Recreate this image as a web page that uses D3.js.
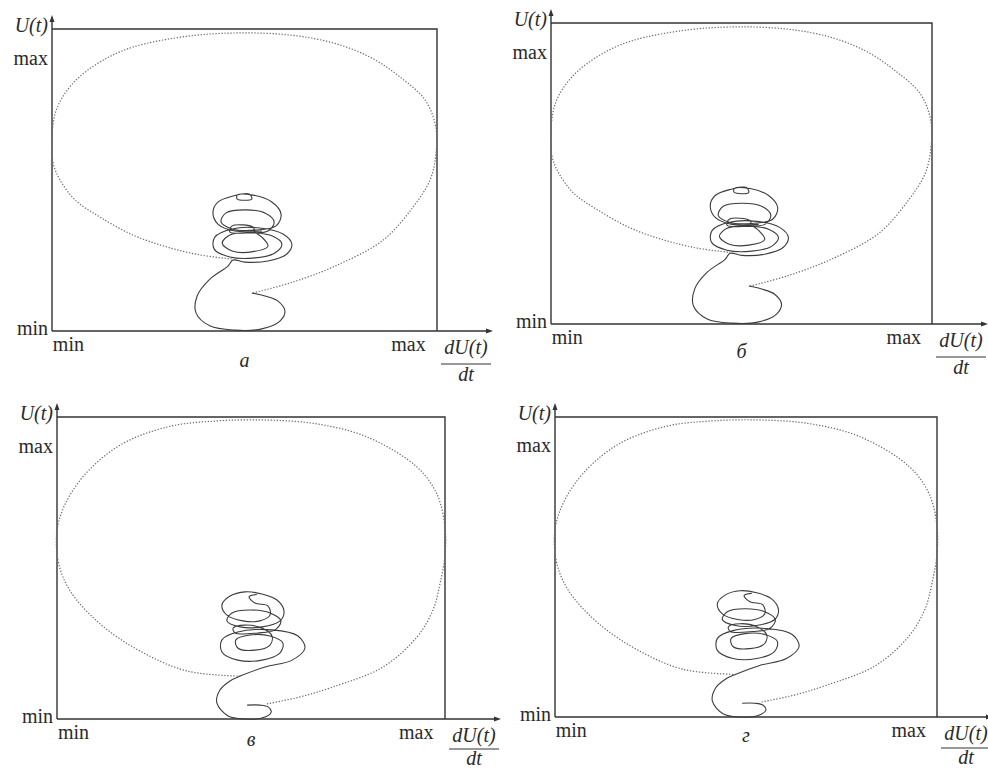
<!DOCTYPE html>
<html>
<head>
<meta charset="utf-8">
<script src="https://cdn.jsdelivr.net/npm/d3@7"></script>
<style>
  body { margin: 0; background: #fff; }
  svg { display: block; }
  text { font-family: "Liberation Serif", "DejaVu Serif", serif; fill: #2a2a2a; }
</style>
</head>
<body>
<script>
'use strict';

// panel captions and axis tick labels
const panelLetters = ['а', 'б', 'в', 'г'];
const tickLabels = ['min', 'max'];
const xTickValues = [4.5, 92];
const yTickValues = [1, 90.5];

// fast part of the trajectory (dotted), [dU/dt, U] in % of the range, panels а, б
const loopAB = [
  [52.2,12.6],[61.8,15.9],[73.0,21.2],[86.0,30.1],[93.8,41.1],[98.2,50.0],[99.7,58.3],
  [99.7,67.5],[96.9,76.5],[90.4,84.1],[82.6,90.7],[73.0,95.4],[61.8,98.0],[48.8,98.7],
  [35.8,97.7],[21.0,94.0],[12.5,89.1],[5.5,82.1],[1.3,73.8],[0,64.9],[0.3,55.6],
  [2.1,50.0],[6.0,43.4],[12.5,37.7],[21.0,31.8],[29.9,27.8],[38.4,25.2],[47.0,23.8]
];
// slow part (solid), panels а, б
const spiralAB = [
  [51.9,12.6],[55.3,11.6],[58.7,9.9],[60.5,6.6],[59.2,3.3],[54.5,0.7],[47.5,0.3],
  [41.0,1.7],[37.4,6.0],[37.7,11.6],[41.0,17.2],[45.7,21.5],[47.0,23.5],[50.1,22.8],
  [56.1,23.2],[61.0,25.5],[62.3,28.8],[60.0,32.1],[54.0,34.1],[46.8,33.8],[42.3,31.1],
  [42.1,27.2],[46.2,24.5],[52.7,24.2],[57.9,25.8],[59.7,28.8],[57.1,31.5],[51.4,32.5],
  [46.2,31.8],[44.2,29.1],[46.8,26.5],[51.9,26.2],[56.1,28.1],[54.5,31.1],[52.7,32.8],
  [52.2,34.4],[46.8,34.8],[46.2,32.8],[51.4,32.5],[56.1,33.1],[57.7,36.1],[55.3,39.1],
  [50.1,40.1],[45.2,39.1],[43.9,36.1],[46.8,33.8],[52.7,33.4],[58.2,34.8],[59.5,38.7],
  [57.1,42.7],[52.2,45.0],[48.1,45.0],[48.1,43.7],[51.9,43.7],[51.2,45.4],[47.0,44.7],
  [43.1,42.7],[41.8,39.4],[43.1,35.4],[47.5,33.1],[54.5,33.1]
];
// dotted part, panels в, г
const loopVG = [
  [54.1,5.0],[62.6,7.3],[71.1,10.6],[84.0,17.2],[92.8,27.2],[96.9,36.1],[98.7,44.7],
  [100,54.3],[100,63.6],[97.9,74.5],[92.8,83.4],[79.9,93.4],[67.0,97.7],[54.1,99.0],
  [41.2,98.7],[28.4,96.7],[15.5,90.1],[5.2,77.8],[0.3,64.6],[0.3,52.3],[3.4,42.4],
  [11.1,31.5],[21.4,22.5],[33.5,15.9],[47.2,14.2]
];
// solid part, panels в, г
const spiralVG = [
  [49.0,4.6],[52.3,4.6],[54.4,4.0],[55.2,2.3],[52.8,0.3],[48.5,0],[44.1,1.0],[41.2,5.3],
  [42.0,9.6],[44.6,12.6],[47.2,14.2],[53.6,17.2],[60.6,19.5],[63.9,23.5],[62.1,27.5],
  [55.4,29.5],[46.6,28.8],[42.5,26.2],[42.5,22.2],[46.6,19.5],[52.8,19.5],[57.5,21.9],
  [58.2,25.2],[54.9,27.5],[49.7,27.8],[46.1,26.2],[46.6,23.5],[51.0,22.8],[54.9,24.5],
  [55.4,27.5],[52.8,30.1],[48.5,31.1],[45.4,30.1],[45.9,28.5],[51.8,28.5],[56.2,29.5],
  [57.7,32.5],[54.9,35.1],[49.7,36.1],[45.1,35.1],[43.8,32.5],[47.2,30.5],[52.8,30.5],
  [57.5,32.5],[58.5,35.8],[56.7,39.4],[52.8,41.4],[48.5,42.1],[44.6,40.7],[42.5,37.7],
  [43.8,34.4],[47.9,32.5],[52.3,32.5],[54.9,34.4],[54.4,37.4],[51.0,38.4],[49.5,40.5],
  [51.5,41.2]
];

const width = 988, height = 769;

// frame position and label offsets below the x axis (letter, fraction bar, "dt")
const panels = [
  {L: 52,  T: 29,  R: 437, B: 331, letterDy: 36, barDy: 33, dtDy: 50, loop: loopAB, spiral: spiralAB},
  {L: 551, T: 23,  R: 932, B: 324, letterDy: 34, barDy: 33, dtDy: 50, loop: loopAB, spiral: spiralAB},
  {L: 57,  T: 417, R: 445, B: 719, letterDy: 27, barDy: 30, dtDy: 46, loop: loopVG, spiral: spiralVG},
  {L: 555, T: 417, R: 937, B: 717, letterDy: 25, barDy: 31, dtDy: 47, loop: loopVG, spiral: spiralVG}
];

const svg = d3.select('body').append('svg')
  .attr('width', width)
  .attr('height', height);

panels.forEach((p, i) => {
  let x = d3.scaleLinear().domain([0, 100]).range([p.L, p.R]);
  let y = d3.scaleLinear().domain([0, 100]).range([p.B, p.T]);
  let g = svg.append('g');

  let line = d3.line()
    .x(d => x(d[0]))
    .y(d => y(d[1]))
    .curve(d3.curveCatmullRom.alpha(0.5));

  // frame: top and right edges
  g.append('path')
    .attr('d', `M${p.L},${p.T}H${p.R}V${p.B}`)
    .attr('fill', 'none')
    .attr('stroke', '#333')
    .attr('stroke-width', 1.4);

  // axes with arrows
  g.append('path')
    .attr('d', `M${p.L},${p.B}V${p.T - 11}M${p.L},${p.B}H${p.R + 53}`)
    .attr('fill', 'none')
    .attr('stroke', '#333')
    .attr('stroke-width', 1.4);
  g.append('path')
    .attr('d', `M${p.L},${p.T - 14}l-2.5,7h5z M${p.R + 56},${p.B}l-7,-2.5v5z`)
    .attr('fill', '#333');

  // tick labels
  let xa = g.append('g')
    .attr('transform', `translate(0,${p.B})`)
    .call(d3.axisBottom(x).tickValues(xTickValues).tickSize(0).tickPadding(6)
      .tickFormat((d, k) => tickLabels[k]));
  let ya = g.append('g')
    .attr('transform', `translate(${p.L},0)`)
    .call(d3.axisLeft(y).tickValues(yTickValues).tickSize(0).tickPadding(4)
      .tickFormat((d, k) => tickLabels[k]));
  [xa, ya].forEach(a => {
    a.select('.domain').remove();
    a.selectAll('text')
      .attr('font-family', '"Liberation Serif", serif')
      .attr('font-size', 20)
      .attr('fill', '#2a2a2a');
  });
  xa.selectAll('.tick text').attr('text-anchor', (d, k) => k === 0 ? 'start' : 'end')
    .attr('dx', (d, k) => k === 0 ? '-17' : '19');

  // axis titles
  g.append('text')
    .attr('x', p.L - 4).attr('y', p.T + 3)
    .attr('text-anchor', 'end')
    .attr('font-size', 20)
    .attr('font-style', 'italic')
    .text('U(t)');
  let fx = p.R + 29;
  g.append('text')
    .attr('x', fx).attr('y', p.B + 23)
    .attr('text-anchor', 'middle')
    .attr('font-size', 20)
    .attr('font-style', 'italic')
    .text('dU(t)');
  g.append('line')
    .attr('x1', fx - 25).attr('x2', fx + 25)
    .attr('y1', p.B + p.barDy).attr('y2', p.B + p.barDy)
    .attr('stroke', '#333').attr('stroke-width', 1.2);
  g.append('text')
    .attr('x', fx).attr('y', p.B + p.dtDy)
    .attr('text-anchor', 'middle')
    .attr('font-size', 20)
    .attr('font-style', 'italic')
    .text('dt');

  // panel letter
  g.append('text')
    .attr('x', (p.L + p.R) / 2).attr('y', p.B + p.letterDy)
    .attr('text-anchor', 'middle')
    .attr('font-size', 20)
    .attr('font-style', 'italic')
    .text(panelLetters[i]);

  // trajectory
  g.append('path')
    .attr('d', line(p.loop))
    .attr('fill', 'none')
    .attr('stroke', '#6a6a6a')
    .attr('stroke-width', 1.2)
    .attr('stroke-dasharray', '1.3,1.7');
  g.append('path')
    .attr('d', line(p.spiral))
    .attr('fill', 'none')
    .attr('stroke', '#3c3c3c')
    .attr('stroke-width', 1.1);
});
</script>
</body>
</html>
